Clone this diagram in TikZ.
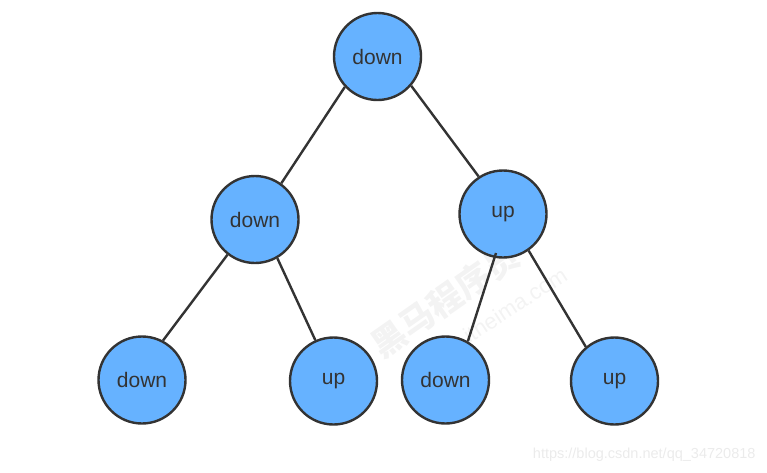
\documentclass[tikz,border=0pt]{standalone}
\usepackage{fontspec}
\setmainfont{Liberation Sans}
\newfontfamily\cjkfont{Noto Sans CJK SC}
\definecolor{nodeblue}{HTML}{66B2FF}
\definecolor{edgegray}{HTML}{333333}
\definecolor{wmgray}{HTML}{EBEBEB}
\definecolor{wmlight}{HTML}{F3F3F3}
\begin{document}
\begin{tikzpicture}[x=1pt,y=-1pt,
  treenode/.style={circle,draw=edgegray,fill=nodeblue,line width=2.4pt,minimum size=87pt,inner sep=0pt,text=edgegray,font=\fontsize{21}{21}\selectfont},
  edge/.style={draw=edgegray,line width=2.4pt}]
\useasboundingbox (0,0) rectangle (767,472);
% watermarks
\node[text=wmlight,font=\cjkfont\fontsize{34}{34}\selectfont\bfseries,rotate=35] (wm1) at (445,300) {黑马程序员};
\node[text=wmlight,font=\fontsize{22}{22}\selectfont,rotate=33] (wm2) at (515,305) {itheima.com};
\node[text=wmgray,font=\fontsize{14.5}{14.5}\selectfont,anchor=east] (wm3) at (759,455) {https://blog.csdn.net/qq\_34720818};
% nodes
\node[treenode] (r) at (377.5,56.5) {down};
\node[treenode] (l) at (255,219.5) {down};
\node[treenode] (ru) at (503,214) {up};
\node[treenode] (ll) at (142,380) {down};
\node[treenode] (lr) at (333.5,381) {up};
\node[treenode] (rl) at (445.5,380) {down};
\node[treenode] (rr) at (614.5,381) {up};
% edges
\draw[edge] (r.223) -- (l.54);
\draw[edge] (r.-41) -- (ru.123);
\draw[edge] (l.232) -- (ll.62);
\draw[edge] (l.-60) -- (lr.114);
\draw[edge] ([shift={(-7,39)}]ru.center) -- (rl.60);
\draw[edge] (ru.-55) -- (rr.130);
\end{tikzpicture}
\end{document}
